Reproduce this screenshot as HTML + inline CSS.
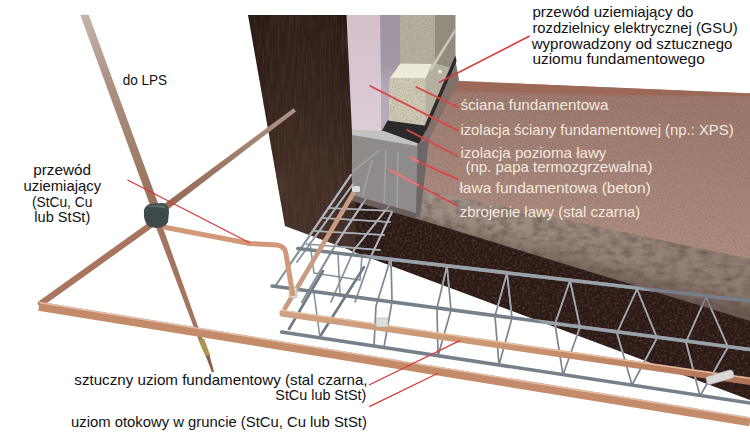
<!DOCTYPE html>
<html lang="pl"><head><meta charset="utf-8"><title>Uziom fundamentowy</title>
<style>
html,body{margin:0;padding:0;background:#fff;}
svg{display:block;}
text{font-family:"Liberation Sans",sans-serif;font-size:14.8px;}
.k{fill:#111;}
.w{fill:#f4e8df;}
</style></head><body>
<svg width="750" height="448" viewBox="0 0 750 448">
<defs>
<filter color-interpolation-filters="sRGB" id="fSoil" x="0" y="0" width="100%" height="100%"><feTurbulence type="fractalNoise" baseFrequency="0.4" numOctaves="2" seed="3" result="n"/><feColorMatrix in="n" type="matrix" values="0 0 0 0 0.36  0 0 0 0 0.25  0 0 0 0 0.22  1.8 0 0 0 -0.78" result="c"/><feComposite in="c" in2="SourceGraphic" operator="in" result="t"/><feMerge><feMergeNode in="SourceGraphic"/><feMergeNode in="t"/></feMerge></filter>
<filter color-interpolation-filters="sRGB" id="fGround" x="0" y="0" width="100%" height="100%"><feTurbulence type="fractalNoise" baseFrequency="0.55" numOctaves="2" seed="7" result="n"/><feColorMatrix in="n" type="matrix" values="0 0 0 0 0.45  0 0 0 0 0.34  0 0 0 0 0.30  0.7 0 0 0 -0.3" result="c"/><feComposite in="c" in2="SourceGraphic" operator="in" result="t"/><feMerge><feMergeNode in="SourceGraphic"/><feMergeNode in="t"/></feMerge></filter>
<filter color-interpolation-filters="sRGB" id="fWood" x="0" y="0" width="100%" height="100%"><feTurbulence type="fractalNoise" baseFrequency="0.45 0.035" numOctaves="3" seed="5" result="n"/><feColorMatrix in="n" type="matrix" values="0 0 0 0 0.29  0 0 0 0 0.2  0 0 0 0 0.17  1.3 0 0 0 -0.5" result="c"/><feComposite in="c" in2="SourceGraphic" operator="in" result="t"/><feMerge><feMergeNode in="SourceGraphic"/><feMergeNode in="t"/></feMerge></filter>
<filter color-interpolation-filters="sRGB" id="fConc" x="0" y="0" width="100%" height="100%"><feTurbulence type="fractalNoise" baseFrequency="0.6" numOctaves="2" seed="11" result="n"/><feColorMatrix in="n" type="matrix" values="0 0 0 0 0.62  0 0 0 0 0.59  0 0 0 0 0.52  1.3 0 0 0 -0.5" result="c"/><feComposite in="c" in2="SourceGraphic" operator="in" result="t"/><feMerge><feMergeNode in="SourceGraphic"/><feMergeNode in="t"/></feMerge></filter>
<linearGradient id="gWall" x1="0" y1="0" x2="1" y2="0"><stop offset="0" stop-color="#271814"/><stop offset="0.35" stop-color="#301e19"/><stop offset="0.75" stop-color="#2d1c18"/><stop offset="1" stop-color="#261713"/></linearGradient>
<linearGradient id="gGround" gradientUnits="userSpaceOnUse" x1="560" y1="84" x2="540" y2="240"><stop offset="0" stop-color="#9d786d"/><stop offset="0.45" stop-color="#a38377"/><stop offset="1" stop-color="#ad8e81"/></linearGradient>
<linearGradient id="gRod" gradientUnits="userSpaceOnUse" x1="84" y1="15" x2="160" y2="225"><stop offset="0" stop-color="#c4b3ab"/><stop offset="0.35" stop-color="#ab8f7f"/><stop offset="1" stop-color="#966b56"/></linearGradient>
<linearGradient id="gStrip2" gradientUnits="userSpaceOnUse" x1="295" y1="110" x2="163" y2="208"><stop offset="0" stop-color="#ad9588"/><stop offset="0.5" stop-color="#9f7a68"/><stop offset="1" stop-color="#966a55"/></linearGradient>
<linearGradient id="gBand" gradientUnits="userSpaceOnUse" x1="415" y1="200" x2="750" y2="290"><stop offset="0" stop-color="#a4968d"/><stop offset="0.35" stop-color="#9c8b81"/><stop offset="1" stop-color="#8f7d73"/></linearGradient>
<linearGradient id="gBandSh" gradientUnits="userSpaceOnUse" x1="600" y1="227" x2="588" y2="274"><stop offset="0" stop-color="#5a463e" stop-opacity="0"/><stop offset="0.55" stop-color="#5a463e" stop-opacity="0.05"/><stop offset="1" stop-color="#4a3832" stop-opacity="0.5"/></linearGradient>
<filter color-interpolation-filters="sRGB" id="fBand" x="0" y="0" width="100%" height="100%"><feTurbulence type="fractalNoise" baseFrequency="0.09 0.16" numOctaves="3" seed="13" result="n"/><feColorMatrix in="n" type="matrix" values="0 0 0 0 0.42  0 0 0 0 0.34  0 0 0 0 0.30  1.6 0 0 0 -0.62" result="c"/><feComposite in="c" in2="SourceGraphic" operator="in" result="t"/><feMerge><feMergeNode in="SourceGraphic"/><feMergeNode in="t"/></feMerge></filter>
<linearGradient id="gStripU" gradientUnits="userSpaceOnUse" x1="282" y1="0" x2="750" y2="0"><stop offset="0" stop-color="#d0a080"/><stop offset="0.45" stop-color="#cb9673"/><stop offset="0.8" stop-color="#bb8060"/><stop offset="1" stop-color="#b07356"/></linearGradient>
<linearGradient id="gPink" gradientUnits="userSpaceOnUse" x1="0" y1="15" x2="0" y2="132"><stop offset="0" stop-color="#d3c0cb"/><stop offset="1" stop-color="#dccdd8"/></linearGradient>
<linearGradient id="gLav" gradientUnits="userSpaceOnUse" x1="0" y1="15" x2="0" y2="130"><stop offset="0" stop-color="#a093a2"/><stop offset="0.42" stop-color="#a295a4"/><stop offset="0.6" stop-color="#b3a7b6"/><stop offset="1" stop-color="#b9adbc"/></linearGradient>
<clipPath id="cDark"><polygon points="248,15 347.3,15 350.7,90 353.8,140 355.5,200 355.5,252 285,226"/><polygon points="350,199 416,218.5 750,321 750,400 350,250.5"/></clipPath>
<filter color-interpolation-filters="sRGB" id="fLight"><feComponentTransfer><feFuncR type="linear" slope="1" intercept="0.14"/><feFuncG type="linear" slope="1" intercept="0.13"/><feFuncB type="linear" slope="1" intercept="0.12"/></feComponentTransfer></filter>
<linearGradient id="gWallV" gradientUnits="userSpaceOnUse" x1="0" y1="15" x2="0" y2="245"><stop offset="0" stop-color="#785f4b" stop-opacity="0"/><stop offset="0.3" stop-color="#785f4b" stop-opacity="0.08"/><stop offset="0.7" stop-color="#785f4b" stop-opacity="0.27"/><stop offset="1" stop-color="#785f4b" stop-opacity="0.3"/></linearGradient>
</defs>
<rect width="750" height="448" fill="#fff"/>

<!-- ground top surface -->
<polygon points="452,81 750,93.5 750,262 414,192 414,143" fill="url(#gGround)" filter="url(#fGround)"/>
<polygon points="452,80.6 750,93.2 750,96 600,94 452,90.5" fill="#9c6655" opacity="0.85"/>
<polygon points="452,89 600,93 750,95.5 750,97.5 600,96.5 452,93" fill="#9c6655" opacity="0.35"/>
<!-- band (cut face) -->
<polygon points="414,187.5 750,259 750,327 405,220" fill="url(#gBand)" filter="url(#fBand)"/>
<polygon points="414,187.5 750,259 750,327 405,220" fill="url(#gBandSh)"/>
<!-- dark soil -->
<polygon points="350,194 416,213 416,218.5 750,321 750,400 350,250.5" fill="#2a1915" filter="url(#fSoil)"/>
<!-- brown wall -->
<polygon points="248,15 347.3,15 350.7,90 353.8,140 355.5,200 355.5,252 285,226" fill="url(#gWall)" filter="url(#fWood)"/>

<polygon points="248,15 347.3,15 350.7,90 353.8,140 355.5,200 355.5,252 285,226" fill="url(#gWallV)"/>
<!-- XPS insulation -->
<polygon points="346.5,15 380,15 381,132 352,132" fill="url(#gPink)"/>
<polygon points="380,15 400,15 400,64 390,79 389,121 383,131 381,131" fill="url(#gLav)"/>

<!-- tall block -->
<polygon points="400,15 435,15 435,64 400,64" fill="#b7b0a0" filter="url(#fConc)"/>
<polygon points="435,15 455.5,15 455.5,57 450,68 435,64" fill="#928b7e"/>
<polygon points="435,64 450,68 425,126 425,79 431,64" fill="#b4af9f"/>
<!-- lower block -->
<polygon points="401,63.5 432,64 425.5,78.5 389.5,78.5" fill="#edebd8"/>
<polygon points="389.5,78 425.5,78 425.5,125.5 389,121" fill="#d1ccb8" filter="url(#fConc)"/>
<!-- conductor to GSU -->
<polygon points="455.4,28 455.4,32 431.5,71.5 429,69.5" fill="#cbc6b9"/>
<circle cx="440" cy="71.5" r="2" fill="#e9e7e2"/>

<!-- footing top (gray band right of membrane) -->
<polygon points="455,58 459,80 429,139.5 417,143 427,126" fill="#80726b"/>
<!-- black membrane -->
<polygon points="387.5,120.4 425,125.4 419.5,144 381,132.5" fill="#2a2a2a"/>
<polygon points="424.5,126 455.3,55.5 456.6,61 427.5,128 419,142 416,139" fill="#2b2b2b"/>

<!-- footing -->
<polygon points="352,131.4 417.5,144 416,213.5 352,195.5" fill="#908b8b"/>
<polygon points="352,129.8 384,131 417.5,143.2 417.5,146 352,135" fill="#c4c1c1"/>
<g stroke="#b4bac0" stroke-width="1.6" opacity="0.45" fill="none"><path d="M386,150 L384,207 M398,152 L397,210 M372,160 L362,198 M352,172 L380,150"/></g>
<polygon points="417.5,143.5 429,139 420,218 416,217" fill="#6c6766"/>
<polygon points="352,195 416,213 416.5,219 352,201" fill="#6a5f5b"/>

<!-- rebar cage -->
<g id="cage" fill="none" stroke="#76808b" stroke-linecap="round">
 <g stroke-width="1.7" stroke="#7c8691">
  <path d="M390.5,259 L376,306 L374,346 M391,259.5 L392,302 L384,347"/>
  <path d="M447,266 L437,308 L438,356 M447,266 L451,310 L438,356"/>
  <path d="M507,273 L495,316 L499,365 M507,273 L512,318 L499,365"/>
  <path d="M570,280.5 L555,324 L563,375 M570,280.5 L580,327 L563,375"/>
  <path d="M637,289 L617,333 L632,385 M637,289 L657,338 L632,385"/>
  <path d="M706,297 L686,342 L700,396 M706,297 L728,347 L700,396"/>
 </g>
 <!-- perpendicular cage -->
 <g stroke-width="2.2" stroke="#8a939d">
  <path d="M276,285 L351,175"/>
  <path d="M297,262 L353,184" stroke-width="1.8"/>
  <path d="M302,302 L336,244 L367,197"/>
  <path d="M331,302 L354,250 L389,206" stroke-width="1.8"/>
  <path d="M355,302 L372,254 L392,212" stroke-width="1.8"/>
  <path d="M328,208 L392,211 M322,218 L390,222 M315,231 L384,235 M306,244 L380,250" stroke-width="1.6"/>
  <path d="M310,243 L314,273 L360,280 L362,256" stroke-width="1.6"/>
  <path d="M338,254 L340,294 M314,293 L320,338" stroke-width="1.6"/>
  <path d="M289,329 L323,271 M321,335 L364,267" stroke-width="2.6" stroke="#6f7984"/>
 </g>
 <g stroke-width="3.5">
  <path d="M297.8,248.5 L750,301"/>
  <path d="M272,286 L750,349.5"/>
  <path d="M281.5,332 L750,403"/>
 </g>
</g>

<g clip-path="url(#cDark)"><use href="#cage" filter="url(#fLight)"/></g>
<!-- copper: foundation electrode strip -->
<g fill="none" stroke-linejoin="round">
 <path d="M354,192 L284,310" stroke="#c79a82" stroke-width="4.6"/>
 <polygon points="279.5,311.5 281,309.8 750,377.2 750,385 281,316.6 279.5,315" fill="url(#gStripU)"/>
 <path d="M281.5,310.4 L750,378.3" stroke="#e8c0a4" stroke-width="1.3"/>
</g>
<!-- clamps -->
<rect x="289" y="287" width="8" height="11" rx="2" fill="#dcdcd8" stroke="#aaa" stroke-width="0.6"/>
<rect x="376" y="318" width="12" height="9" rx="2" fill="#deded9" stroke="#aaa" stroke-width="0.6"/>
<rect x="706" y="373" width="28" height="8.5" rx="3" transform="rotate(-16 720 377)" fill="#d9d9d6" stroke="#aaa" stroke-width="0.6"/>
<rect x="352" y="186" width="8" height="6" rx="1.5" fill="#deded9"/>

<!-- rod lower part -->
<polygon points="155.5,226 162,225 202.8,340 199,341" fill="#a4755e"/>
<polygon points="198.3,340 204,338.6 210.5,356 206,357.5" fill="#ad9555"/>
<polygon points="206,356.5 209.5,355.5 214,371.5 212,372.5" fill="#8a5a48"/>
<!-- ring electrode -->
<g fill="none" stroke-linejoin="round">
 <polygon points="293.6,108.2 296,111.4 166,211 161.4,206" fill="url(#gStrip2)" stroke="none"/>
 <path d="M150,225.5 L41,303.5" stroke="#a8765e" stroke-width="6.3" stroke-linecap="round"/>
 <path d="M39,306.3 L750,421.7" stroke="#c48b6a" stroke-width="9"/>
 <path d="M39,302.6 L750,418" stroke="#e3bfaa" stroke-width="1.5"/>
</g>

<!-- earthing wire -->
<path d="M163,227 L250,243.5 L277,245 Q285,246 286,254 L293,296" fill="none" stroke="#d39878" stroke-width="5" stroke-linejoin="round"/>

<!-- rod -->
<polygon points="80.2,14.8 88.7,14.8 161.3,212 153.3,214" fill="url(#gRod)"/>
<!-- connector -->
<path d="M144,210 Q146,203 154,203.5 L163,203 Q169,205 169,212 L168,222 Q165,228 156,228 L149,226.5 Q143,222 144,210Z" fill="#3d4a49"/>
<path d="M147,207 Q149,204.5 155,205 L162,204.8 Q166,205.5 167,209 Q160,207 147,207Z" fill="#566665"/>

<!-- leader lines -->
<g stroke="#d8393b" stroke-width="1.3" fill="none">
 <path d="M127.5,180 L250,243"/>
 <path d="M529.6,36 L439,82.5" stroke-width="1.5"/>
 <path d="M369,385 L460.3,340.4"/>
 <path d="M369.3,406.6 L438.5,373"/>
</g>
<g stroke="#dc4644" stroke-width="1.9" fill="none" stroke-linecap="round">
 <path d="M457.5,107.2 L416.3,87"/>
 <path d="M457.5,130.3 L370.2,86"/>
 <path d="M457.5,156 L407.3,130"/>
 <path d="M457.5,179.2 L418,161.5"/>
 <path d="M418,161.5 L410.3,157" stroke="#e77676" stroke-width="2.2"/>
 <path d="M457.5,206 L418,185"/>
 <path d="M418,185 L390.2,170.2" stroke="#e77676" stroke-width="2.2"/>
</g>

<!-- labels -->
<g class="k">
<text x="122.7" y="84.7" textLength="44.4" lengthAdjust="spacingAndGlyphs">do LPS</text>
<text x="33.2" y="174.6" textLength="57.9" lengthAdjust="spacingAndGlyphs">przewód</text>
<text x="23.5" y="190.7" textLength="77.6" lengthAdjust="spacingAndGlyphs">uziemiający</text>
<text x="31.9" y="206.7" textLength="60.5" lengthAdjust="spacingAndGlyphs">(StCu, Cu</text>
<text x="34.3" y="221.7" textLength="56.0" lengthAdjust="spacingAndGlyphs">lub StSt)</text>
<text x="532.4" y="17.3" textLength="161.1" lengthAdjust="spacingAndGlyphs">przewód uziemiający do</text>
<text x="532.4" y="32.9" textLength="205.4" lengthAdjust="spacingAndGlyphs">rozdzielnicy elektrycznej (GSU)</text>
<text x="531.7" y="48.7" textLength="200.8" lengthAdjust="spacingAndGlyphs">wyprowadzony od sztucznego</text>
<text x="532.4" y="64.3" textLength="172.4" lengthAdjust="spacingAndGlyphs">uziomu fundamentowego</text>
<text x="74.3" y="385.3" textLength="293.3" lengthAdjust="spacingAndGlyphs">sztuczny uziom fundamentowy (stal czarna,</text>
<text x="275.3" y="400.2" textLength="91.0" lengthAdjust="spacingAndGlyphs">StCu lub StSt)</text>
<text x="71.1" y="426.9" textLength="295.8" lengthAdjust="spacingAndGlyphs">uziom otokowy w gruncie (StCu, Cu lub StSt)</text>
</g>
<g class="w">
<text x="460.4" y="110.1" textLength="148.2" lengthAdjust="spacingAndGlyphs">ściana fundamentowa</text>
<text x="460.4" y="134.6" textLength="273.2" lengthAdjust="spacingAndGlyphs">izolacja ściany fundamentowej (np.: XPS)</text>
<text x="460.4" y="158.4" textLength="146.0" lengthAdjust="spacingAndGlyphs">izolacja pozioma ławy</text>
<text x="465.4" y="172.2" textLength="187.0" lengthAdjust="spacingAndGlyphs">(np. papa termozgrzewalna)</text>
<text x="459.4" y="193.2" textLength="191.4" lengthAdjust="spacingAndGlyphs">ława fundamentowa (beton)</text>
<text x="459.8" y="216.7" textLength="180.4" lengthAdjust="spacingAndGlyphs">zbrojenie ławy (stal czarna)</text>
</g>
</svg>
</body></html>
